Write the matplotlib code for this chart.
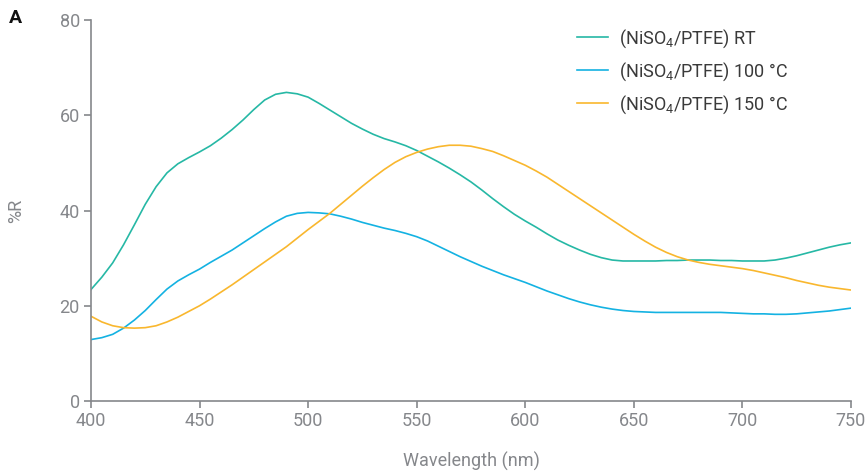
import matplotlib

matplotlib.use("Agg")
import matplotlib.pyplot as plt
import numpy as np

plt.rcParams["font.family"] = ["Roboto", "DejaVu Sans"]
plt.rcParams["mathtext.fontset"] = "custom"
plt.rcParams["mathtext.rm"] = "Roboto"
plt.rcParams["mathtext.it"] = "Roboto"

wavelength = np.arange(400, 751, 5)

rt = [23.4, 26.0, 29.0, 32.8, 37.0, 41.3, 45.0, 47.9, 49.8, 51.1,
      52.3, 53.6, 55.2, 57.0, 59.0, 61.2, 63.2, 64.4, 64.8, 64.5,
      63.8, 62.5, 61.1, 59.7, 58.3, 57.1, 56.0, 55.1, 54.4, 53.6,
      52.6, 51.4, 50.2, 48.9, 47.5, 46.0, 44.3, 42.5, 40.8, 39.2,
      37.8, 36.5, 35.1, 33.8, 32.7, 31.7, 30.8, 30.1, 29.6, 29.4,
      29.4, 29.4, 29.4, 29.5, 29.5, 29.6, 29.6, 29.6, 29.5, 29.5,
      29.4, 29.4, 29.4, 29.6, 30.0, 30.5, 31.1, 31.7, 32.3, 32.8,
      33.2]
c100 = [12.9, 13.3, 14.0, 15.3, 17.0, 19.0, 21.3, 23.5, 25.2, 26.5,
        27.7, 29.1, 30.4, 31.7, 33.2, 34.7, 36.2, 37.6, 38.8, 39.4,
        39.6, 39.5, 39.3, 38.8, 38.2, 37.5, 36.9, 36.3, 35.8, 35.2,
        34.5, 33.6, 32.5, 31.4, 30.3, 29.3, 28.3, 27.4, 26.5, 25.7,
        24.9, 24.0, 23.1, 22.3, 21.5, 20.8, 20.2, 19.7, 19.3, 19.0,
        18.8, 18.7, 18.6, 18.6, 18.6, 18.6, 18.6, 18.6, 18.6, 18.5,
        18.4, 18.3, 18.3, 18.2, 18.2, 18.3, 18.5, 18.7, 18.9, 19.2,
        19.5]
c150 = [17.8, 16.6, 15.8, 15.4, 15.3, 15.4, 15.8, 16.6, 17.6, 18.8,
        20.0, 21.4, 22.9, 24.4, 26.0, 27.6, 29.2, 30.8, 32.4, 34.2,
        36.0, 37.7, 39.4, 41.3, 43.2, 45.1, 46.9, 48.6, 50.1, 51.3,
        52.2, 52.9, 53.4, 53.7, 53.7, 53.5, 53.0, 52.4, 51.5, 50.5,
        49.5, 48.3, 47.0, 45.5, 44.0, 42.5, 41.0, 39.5, 38.0, 36.5,
        35.0, 33.6, 32.3, 31.2, 30.3, 29.6, 29.1, 28.7, 28.4, 28.1,
        27.8, 27.4, 26.9, 26.4, 25.9, 25.3, 24.8, 24.3, 23.9, 23.6,
        23.3]

labels = ["(NiSO$_4$/PTFE) RT", "(NiSO$_4$/PTFE) 100 °C", "(NiSO$_4$/PTFE) 150 °C"]
colors = ["#26b8a5", "#14b2e2", "#f9b72e"]

gray = "#85878b"
fs = 13

fig = plt.figure(figsize=(8.68, 4.74), dpi=100)
ax = fig.add_axes([0.1048, 0.154, 0.8756, 0.8038])

for y, lab, col in zip([rt, c100, c150], labels, colors):
    ax.plot(wavelength, y, color=col, lw=1.2, label=lab)

ax.set_xlim(400, 750)
ax.set_ylim(0, 80)
ax.set_xticks(range(400, 751, 50))
ax.set_yticks(range(0, 81, 20))
for s in ["top", "right"]:
    ax.spines[s].set_visible(False)
for s in ["left", "bottom"]:
    ax.spines[s].set_color(gray)
    ax.spines[s].set_linewidth(1.2)
ax.tick_params(colors=gray, labelsize=fs, length=5, width=1.2, labelcolor=gray, pad=3)
ax.set_xlabel("Wavelength (nm)", color=gray, fontsize=fs)
ax.set_ylabel("%R", color=gray, fontsize=fs)
ax.xaxis.set_label_coords(0.5, -0.134)
ax.yaxis.set_label_coords(-0.087, 0.5)

leg = fig.legend(loc="upper left", bbox_to_anchor=(0.6647, 0.943), frameon=False,
                 fontsize=fs, handlelength=1.7, handletextpad=0.65, labelspacing=0.58,
                 borderpad=0, borderaxespad=0)
for t in leg.get_texts():
    t.set_color("#3a3a3a")

fig.text(0.0104, 0.962, "A", fontsize=14, fontweight="bold", color="#111111", va="center")

fig.savefig("out.png", dpi=100)
